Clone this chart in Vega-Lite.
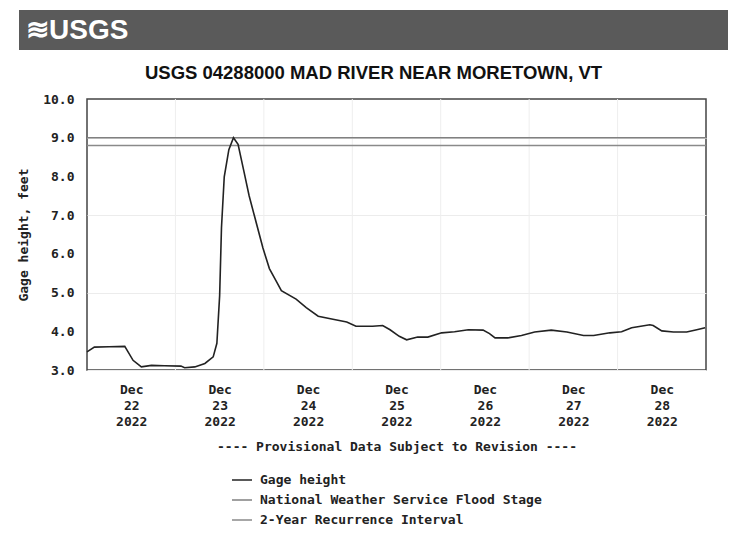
{
  "$schema": "https://vega.github.io/schema/vega-lite/v6.json",
  "padding": {"left": 17, "top": 10, "right": 5, "bottom": 5},
  "background": "white",
  "spacing": 10,
  "resolve": {"scale": {"color": "independent"}, "legend": {"color": "independent"}},
  "datasets": {
    "gage": [
      {"time": "2022-12-22T00:00:00Z", "height": 3.47},
      {"time": "2022-12-22T02:00:00Z", "height": 3.59},
      {"time": "2022-12-22T06:00:00Z", "height": 3.60},
      {"time": "2022-12-22T10:15:00Z", "height": 3.61},
      {"time": "2022-12-22T12:30:00Z", "height": 3.25},
      {"time": "2022-12-22T14:45:00Z", "height": 3.08},
      {"time": "2022-12-22T17:30:00Z", "height": 3.12},
      {"time": "2022-12-22T21:00:00Z", "height": 3.11},
      {"time": "2022-12-23T01:30:00Z", "height": 3.10},
      {"time": "2022-12-23T02:30:00Z", "height": 3.06},
      {"time": "2022-12-23T05:15:00Z", "height": 3.08},
      {"time": "2022-12-23T08:00:00Z", "height": 3.17},
      {"time": "2022-12-23T10:15:00Z", "height": 3.34},
      {"time": "2022-12-23T11:15:00Z", "height": 3.69},
      {"time": "2022-12-23T12:00:00Z", "height": 4.92},
      {"time": "2022-12-23T12:30:00Z", "height": 6.68},
      {"time": "2022-12-23T13:15:00Z", "height": 7.99},
      {"time": "2022-12-23T14:30:00Z", "height": 8.69},
      {"time": "2022-12-23T15:45:00Z", "height": 9.00},
      {"time": "2022-12-23T17:00:00Z", "height": 8.83},
      {"time": "2022-12-23T18:30:00Z", "height": 8.17},
      {"time": "2022-12-23T20:00:00Z", "height": 7.50},
      {"time": "2022-12-23T23:45:00Z", "height": 6.15},
      {"time": "2022-12-24T01:30:00Z", "height": 5.62},
      {"time": "2022-12-24T03:30:00Z", "height": 5.27},
      {"time": "2022-12-24T04:45:00Z", "height": 5.05},
      {"time": "2022-12-24T08:45:00Z", "height": 4.83},
      {"time": "2022-12-24T11:30:00Z", "height": 4.61},
      {"time": "2022-12-24T14:45:00Z", "height": 4.39},
      {"time": "2022-12-24T18:45:00Z", "height": 4.31},
      {"time": "2022-12-24T22:30:00Z", "height": 4.24},
      {"time": "2022-12-25T01:00:00Z", "height": 4.13},
      {"time": "2022-12-25T05:30:00Z", "height": 4.13},
      {"time": "2022-12-25T08:15:00Z", "height": 4.15},
      {"time": "2022-12-25T10:15:00Z", "height": 4.04},
      {"time": "2022-12-25T12:45:00Z", "height": 3.87},
      {"time": "2022-12-25T14:45:00Z", "height": 3.78},
      {"time": "2022-12-25T17:45:00Z", "height": 3.85},
      {"time": "2022-12-25T20:30:00Z", "height": 3.85},
      {"time": "2022-12-26T00:15:00Z", "height": 3.96},
      {"time": "2022-12-26T03:45:00Z", "height": 3.99},
      {"time": "2022-12-26T07:30:00Z", "height": 4.04},
      {"time": "2022-12-26T11:30:00Z", "height": 4.03},
      {"time": "2022-12-26T13:15:00Z", "height": 3.94},
      {"time": "2022-12-26T14:45:00Z", "height": 3.83},
      {"time": "2022-12-26T18:15:00Z", "height": 3.83},
      {"time": "2022-12-26T21:55:00Z", "height": 3.89},
      {"time": "2022-12-27T01:30:00Z", "height": 3.98},
      {"time": "2022-12-27T06:00:00Z", "height": 4.03},
      {"time": "2022-12-27T10:15:00Z", "height": 3.98},
      {"time": "2022-12-27T14:45:00Z", "height": 3.89},
      {"time": "2022-12-27T17:30:00Z", "height": 3.89},
      {"time": "2022-12-27T21:55:00Z", "height": 3.96},
      {"time": "2022-12-28T01:05:00Z", "height": 3.99},
      {"time": "2022-12-28T03:50:00Z", "height": 4.09},
      {"time": "2022-12-28T08:45:00Z", "height": 4.17},
      {"time": "2022-12-28T09:40:00Z", "height": 4.15},
      {"time": "2022-12-28T12:00:00Z", "height": 4.01},
      {"time": "2022-12-28T15:10:00Z", "height": 3.98},
      {"time": "2022-12-28T18:45:00Z", "height": 3.98},
      {"time": "2022-12-28T21:30:00Z", "height": 4.04},
      {"time": "2022-12-28T23:45:00Z", "height": 4.09}
    ],
    "thresholds": [
      {"series": "National Weather Service Flood Stage", "height": 9.0},
      {"series": "2-Year Recurrence Interval", "height": 8.8}
    ],
    "midnights": [
      {"time": "2022-12-23T00:00:00Z"},
      {"time": "2022-12-24T00:00:00Z"},
      {"time": "2022-12-25T00:00:00Z"},
      {"time": "2022-12-26T00:00:00Z"},
      {"time": "2022-12-27T00:00:00Z"},
      {"time": "2022-12-28T00:00:00Z"}
    ],
    "logo": [{"label": "≋USGS", "px": 0, "py": 0.5}]
  },
  "vconcat": [
    {
      "width": 709,
      "height": 40,
      "view": {"fill": "#5a5a5a", "stroke": null},
      "title": {
        "text": "USGS 04288000 MAD RIVER NEAR MORETOWN, VT",
        "orient": "bottom",
        "anchor": "middle",
        "font": "Liberation Sans",
        "fontWeight": "bold",
        "fontSize": 18.5,
        "color": "#111",
        "offset": 14
      },
      "data": {"name": "logo"},
      "mark": {"type": "text", "align": "left", "baseline": "middle", "dx": 7, "dy": 1, "font": "Liberation Sans", "fontWeight": "bold", "fontSize": 28, "color": "white"},
      "encoding": {
        "x": {"field": "px", "type": "quantitative", "scale": {"domain": [0, 1]}, "axis": null},
        "y": {"field": "py", "type": "quantitative", "scale": {"domain": [0, 1]}, "axis": null},
        "text": {"field": "label"}
      }
    },
    {
      "spacing": 0,
      "resolve": {"scale": {"color": "independent", "y": "independent"}, "legend": {"color": "independent"}},
      "hconcat": [
        {
          "width": 64,
          "height": 271,
          "view": {"stroke": null},
          "data": {"name": "thresholds"},
          "mark": {"type": "point", "opacity": 0},
          "encoding": {
            "y": {
              "field": "height",
              "type": "quantitative",
              "scale": {"domain": [3, 10], "nice": false, "zero": false},
              "axis": {
                "orient": "left",
                "offset": -64,
                "values": [3, 4, 5, 6, 7, 8, 9, 10],
                "format": ".1f",
                "labelOverlap": false,
                "grid": false,
                "title": "Gage height, feet",
                "labelPadding": 9,
                "titlePadding": 12
              }
            }
          }
        },
        {
          "width": 619,
          "height": 271,
          "view": {"stroke": "#444", "strokeWidth": 1.5},
          "layer": [
            {
              "data": {"name": "midnights"},
              "mark": {"type": "rule", "color": "#eeeeee", "strokeWidth": 1},
              "encoding": {
                "x": {"field": "time", "type": "temporal"}
              }
            },
            {
              "data": {"name": "thresholds"},
              "mark": {"type": "rule", "strokeWidth": 1.5},
              "encoding": {
                "y": {"field": "height", "type": "quantitative"},
                "color": {"field": "series", "type": "nominal"}
              }
            },
            {
              "data": {"name": "gage"},
              "transform": [{"calculate": "'Gage height'", "as": "series"}],
              "mark": {"type": "line", "strokeWidth": 1.6, "interpolate": "linear"},
              "encoding": {
                "x": {
                  "field": "time",
                  "type": "temporal",
                  "scale": {
                    "type": "utc",
                    "domain": [
                      {"year": 2022, "month": 12, "date": 22, "utc": true},
                      {"year": 2022, "month": 12, "date": 29, "utc": true}
                    ]
                  },
                  "axis": {
                    "values": [
                      {"year": 2022, "month": 12, "date": 22, "hours": 12, "utc": true},
                      {"year": 2022, "month": 12, "date": 23, "hours": 12, "utc": true},
                      {"year": 2022, "month": 12, "date": 24, "hours": 12, "utc": true},
                      {"year": 2022, "month": 12, "date": 25, "hours": 12, "utc": true},
                      {"year": 2022, "month": 12, "date": 26, "hours": 12, "utc": true},
                      {"year": 2022, "month": 12, "date": 27, "hours": 12, "utc": true},
                      {"year": 2022, "month": 12, "date": 28, "hours": 12, "utc": true}
                    ],
                    "labelExpr": "[utcFormat(datum.value, '%b'), utcFormat(datum.value, '%d'), utcFormat(datum.value, '%Y')]",
                    "labelLineHeight": 16,
                    "labelPadding": 13,
                    "labelBaseline": "top",
                    "ticks": false,
                    "grid": false,
                    "domain": false,
                    "title": "---- Provisional Data Subject to Revision ----",
                    "titlePadding": 12
                  }
                },
                "y": {
                  "field": "height",
                  "type": "quantitative",
                  "scale": {"domain": [3, 10], "nice": false, "zero": false},
                  "axis": {
                    "values": [3, 4, 5, 6, 7, 8, 9, 10],
                    "labels": false,
                    "ticks": false,
                    "domain": false,
                    "title": null,
                    "grid": true,
                    "minExtent": 0,
                    "maxExtent": 0
                  }
                },
                "color": {
                  "field": "series",
                  "type": "nominal",
                  "scale": {
                    "domain": ["Gage height", "National Weather Service Flood Stage", "2-Year Recurrence Interval"],
                    "range": ["#222222", "#808080", "#8a8a8a"]
                  },
                  "legend": {
                    "orient": "none",
                    "legendX": 144,
                    "legendY": 370,
                    "title": null,
                    "symbolType": "stroke",
                    "symbolSize": 400,
                    "symbolStrokeWidth": 1.5,
                    "symbolStrokeColor": "#333",
                    "labelFont": "DejaVu Sans Mono",
                    "labelFontSize": 13,
                    "labelFontWeight": "bold",
                    "labelColor": "#222",
                    "labelLimit": 600,
                    "labelOffset": 7,
                    "rowPadding": 2
                  }
                }
              }
            }
          ]
        }
      ]
    }
  ],
  "config": {
    "font": "DejaVu Sans Mono",
    "axis": {
      "labelFont": "DejaVu Sans Mono",
      "labelFontSize": 13,
      "labelFontWeight": "bold",
      "labelColor": "#222",
      "titleFont": "DejaVu Sans Mono",
      "titleFontSize": 13,
      "titleFontWeight": "bold",
      "titleColor": "#222"
    },
    "axisY": {
      "gridColor": "#ececec",
      "domain": false,
      "ticks": false
    }
  }
}
